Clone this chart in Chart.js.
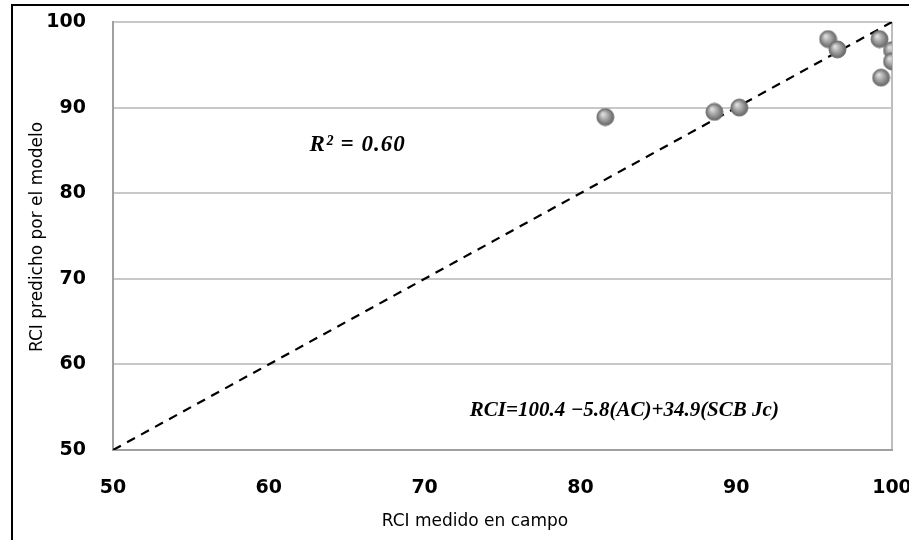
<!DOCTYPE html>
<html>
<head>
<meta charset="utf-8">
<script src="https://cdn.jsdelivr.net/npm/chart.js@4"></script>
<style>
html,body{margin:0;padding:0;background:#fff;}
#wrap{width:909px;height:540px;position:relative;}
</style>
</head>
<body>
<div id="wrap"><canvas id="c" width="909" height="540"></canvas></div>
<script>
// Data
const measuredRCI  = [81.6, 88.6, 90.2, 95.9, 96.5, 99.2, 100.0, 100.0, 99.3];
const predictedRCI = [88.9, 89.5, 90.0, 98.0, 96.8, 98.0, 96.7, 95.4, 93.5];
const identityX = [50, 100];
const identityY = [50, 100];
const axisTicks = [50, 60, 70, 80, 90, 100];
const xTitle = 'RCI medido en campo';
const yTitle = 'RCI predicho por el modelo';
const r2Text = 'R² = 0.60';
const eqText = 'RCI=100.4 −5.8(AC)+34.9(SCB Jc)';

// sphere marker
function makeSphere(r){
  const s = r*2+2;
  const cv = document.createElement('canvas');
  cv.width = s; cv.height = s;
  const g = cv.getContext('2d');
  const cx = s/2, cy = s/2;
  const grad = g.createRadialGradient(cx-r*0.3, cy-r*0.35, r*0.1, cx, cy, r);
  grad.addColorStop(0, '#dcdcdc');
  grad.addColorStop(0.55, '#9a9a9a');
  grad.addColorStop(1, '#656565');
  g.beginPath(); g.arc(cx, cy, r, 0, Math.PI*2);
  g.fillStyle = grad; g.fill();
  g.lineWidth = 1; g.strokeStyle = '#707070'; g.stroke();
  return cv;
}
const sphere = makeSphere(8.5);

const points = measuredRCI.map((x,i)=>({x:x, y:predictedRCI[i]}));
const line = identityX.map((x,i)=>({x:x, y:identityY[i]}));

const framePlugin = {
  id:'frame',
  afterDraw(chart){
    const c = chart.ctx;
    const xs = chart.scales.x, ys = chart.scales.y;
    c.save();
    // outer black frame
    c.strokeStyle = '#000'; c.lineWidth = 2;
    c.beginPath(); c.moveTo(12, 540); c.lineTo(12, 5); c.lineTo(909, 5); c.stroke();
    // axis titles
    c.fillStyle = '#000';
    c.font = '17px "DejaVu Sans", sans-serif';
    c.textAlign = 'center'; c.textBaseline = 'middle';
    c.fillText(xTitle, 475, 522);
    c.save();
    c.translate(38, 237);
    c.rotate(-Math.PI/2);
    c.fillText(yTitle, 0, 0);
    c.restore();
    // annotations
    c.font = 'italic bold 23px "Liberation Serif", serif';
    c.textAlign = 'center';
    if ('letterSpacing' in c) c.letterSpacing = '1px';
    c.fillText(r2Text, xs.getPixelForValue(65.7), ys.getPixelForValue(85.6));
    if ('letterSpacing' in c) c.letterSpacing = '0px';
    c.font = 'italic bold 21px "Liberation Serif", serif';
    c.textAlign = 'left';
    c.fillText(eqText, xs.getPixelForValue(72.9), ys.getPixelForValue(54.6));
    c.restore();
  }
};

function noPad(s){ s.paddingLeft = 0; s.paddingRight = 0; s.paddingTop = 0; s.paddingBottom = 0; }

new Chart(document.getElementById('c'), {
  type:'scatter',
  data:{
    datasets:[
      {type:'line', data:line, borderColor:'#000', borderWidth:2.2, borderDash:[9,7], pointRadius:0, fill:false, order:2},
      {data:points, pointStyle:sphere, pointRadius:9, order:1}
    ]
  },
  options:{
    responsive:false, animation:false,
    layout:{padding:{left:0, top:22, right:17, bottom:0}},
    plugins:{legend:{display:false}, tooltip:{enabled:false}},
    scales:{
      x:{
        type:'linear', min:50, max:100,
        afterBuildTicks(s){ s.ticks = axisTicks.map(v=>({value:v})); },
        afterFit(s){ s.height = 90; noPad(s); },
        grid:{drawTicks:false, lineWidth:2,
          color:(ctx)=> (ctx.tick && ctx.tick.value===100) ? '#bdbdbd' : 'rgba(0,0,0,0)'},
        border:{color:'#a0a0a0', width:2},
        ticks:{padding:27, color:'#000', font:{family:'"DejaVu Sans", sans-serif', size:19, weight:'bold'}}
      },
      y:{
        type:'linear', min:50, max:100,
        afterBuildTicks(s){ s.ticks = axisTicks.map(v=>({value:v})); },
        afterFit(s){ s.width = 113; noPad(s); },
        grid:{drawTicks:false, lineWidth:2, color:'#c8c8c8'},
        border:{color:'#a0a0a0', width:2},
        ticks:{padding:27, color:'#000', font:{family:'"DejaVu Sans", sans-serif', size:19, weight:'bold'}}
      }
    }
  },
  plugins:[framePlugin]
});
</script>
</body>
</html>
